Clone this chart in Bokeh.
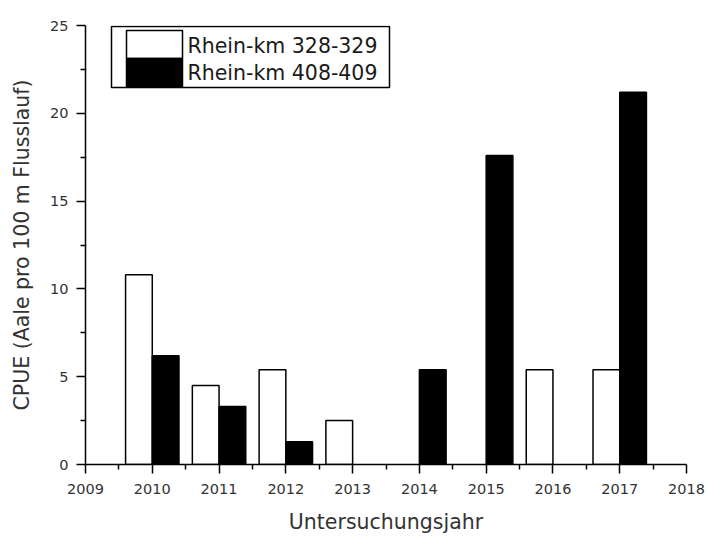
from bokeh.plotting import figure
from bokeh.models import ColumnDataSource, FixedTicker, BoxAnnotation, Label
from bokeh.embed import file_html
from bokeh.resources import INLINE

# ---- data ----
years = [2010, 2011, 2012, 2013, 2014, 2015, 2016, 2017]
km_328_329 = [10.8, 4.5, 5.4, 2.5, 0.0, 0.0, 5.4, 5.4]
km_408_409 = [6.2, 3.3, 1.3, 0.0, 5.4, 17.6, 0.0, 21.2]
series_names = ["Rhein-km 328-329", "Rhein-km 408-409"]
x_ticks = [2009, 2010, 2011, 2012, 2013, 2014, 2015, 2016, 2017, 2018]
x_minor = [2009.5, 2010.5, 2011.5, 2012.5, 2013.5, 2014.5, 2015.5, 2016.5, 2017.5]
y_ticks = [0, 5, 10, 15, 20, 25]
y_minor = [2.5, 7.5, 12.5, 17.5, 22.5]
x_label = "Untersuchungsjahr"
y_label = "CPUE (Aale pro 100 m Flusslauf)"

FONT = "DejaVu Sans"
BAR_W = 0.4


def series_source(vals, offset):
    xs = [y + offset for y, v in zip(years, vals) if v > 0]
    tops = [v for v in vals if v > 0]
    return ColumnDataSource(dict(x=xs, top=tops))


p = figure(width=706, height=536, x_range=(2009, 2018), y_range=(0, 25),
           output_backend="svg", toolbar_location=None,
           min_border_left=85, min_border_right=20, min_border_top=25,
           min_border_bottom=72)
p.outline_line_color = None
p.grid.visible = False
p.background_fill_color = "white"

p.vbar(x="x", top="top", width=BAR_W, source=series_source(km_328_329, -BAR_W / 2),
       fill_color="white", line_color="black", line_width=1.5)
p.vbar(x="x", top="top", width=BAR_W, source=series_source(km_408_409, BAR_W / 2),
       fill_color="black", line_color="black", line_width=1.5)

p.xaxis.ticker = FixedTicker(ticks=x_ticks, minor_ticks=x_minor)
p.yaxis.ticker = FixedTicker(ticks=y_ticks, minor_ticks=y_minor)

for ax in (p.xaxis, p.yaxis):
    ax.axis_line_color = "black"
    ax.axis_line_width = 1.5
    ax.major_tick_line_color = "black"
    ax.major_tick_line_width = 1.5
    ax.minor_tick_line_color = "black"
    ax.minor_tick_line_width = 1.5
    ax.major_tick_in = 0
    ax.major_tick_out = 9
    ax.minor_tick_in = 0
    ax.minor_tick_out = 5
    ax.major_label_text_font = FONT
    ax.major_label_text_font_size = "14.5px"
    ax.major_label_text_color = "#333333"
    ax.axis_label_text_font = FONT
    ax.axis_label_text_font_size = "20.5px"
    ax.axis_label_text_font_style = "normal"
    ax.axis_label_text_color = "#333333"

p.xaxis.axis_label = x_label
p.yaxis.axis_label = y_label
p.xaxis.major_label_standoff = 10
p.xaxis.axis_label_standoff = 13
p.yaxis.major_label_standoff = 8
p.yaxis.axis_label_standoff = 13

# ---- legend (screen units, relative to the plot frame, y up from its bottom) ----
SCREEN = dict(left_units="screen", right_units="screen",
              top_units="screen", bottom_units="screen")
SW_L, SW_R = 41, 97
p.add_layout(BoxAnnotation(left=SW_L, right=SW_R, top=434, bottom=406, **SCREEN,
                           fill_color="white", fill_alpha=1,
                           line_color="black", line_alpha=1, line_width=1.5))
p.add_layout(BoxAnnotation(left=SW_L, right=SW_R, top=406, bottom=378, **SCREEN,
                           fill_color="black", fill_alpha=1,
                           line_color="black", line_alpha=1, line_width=1.5))
for name, base in zip(series_names, (419, 392)):
    p.add_layout(Label(x=102, y=base, x_units="screen", y_units="screen",
                       text=name, text_font=FONT, text_font_size="20.5px",
                       text_color="#1a1a1a", text_baseline="alphabetic",
                       text_align="left"))
p.add_layout(BoxAnnotation(left=26, right=304, top=438, bottom=377, **SCREEN,
                           fill_alpha=0, line_color="black", line_alpha=1,
                           line_width=1.5))

open("out.html", "w").write(file_html(p, INLINE))
